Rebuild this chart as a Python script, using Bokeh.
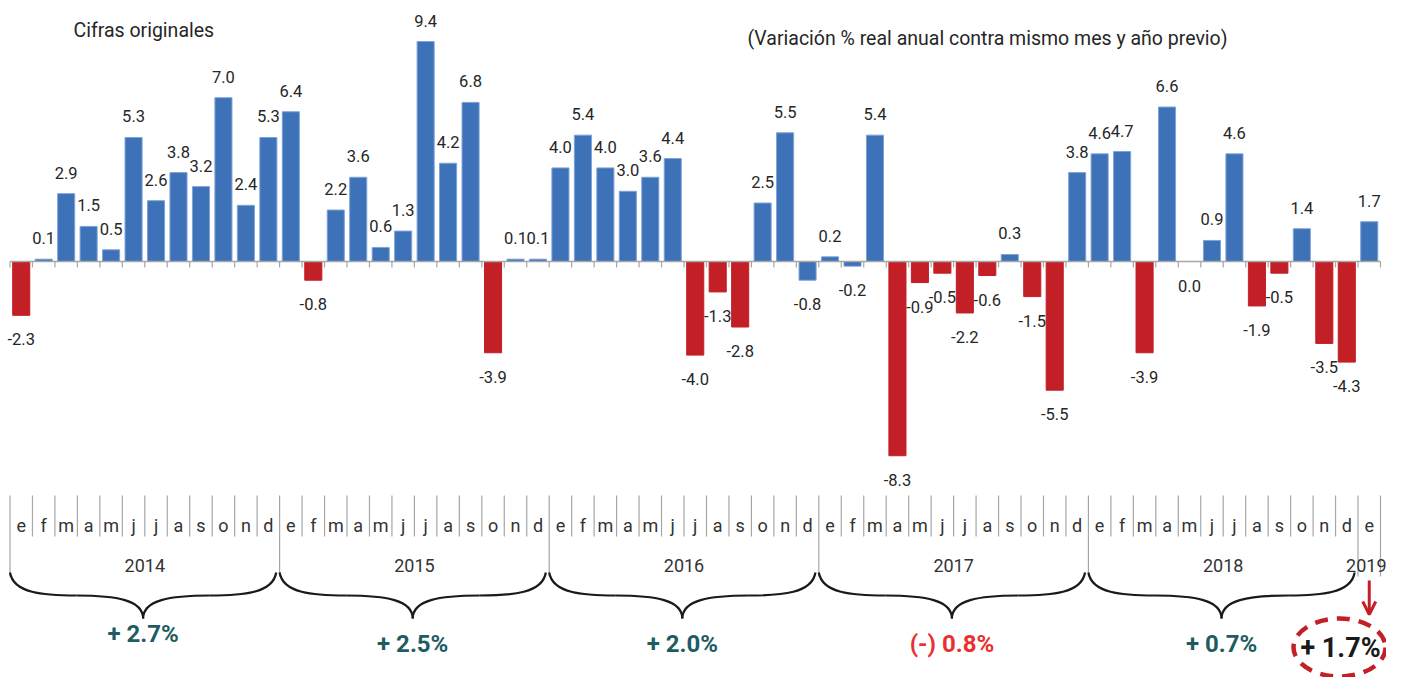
from bokeh.plotting import figure
from bokeh.models import Range1d, Arrow, OpenHead, ColumnDataSource
from bokeh.core.properties import value
from bokeh.embed import file_html
from bokeh.resources import INLINE

# ---------------- data ----------------
years = ["2014", "2015", "2016", "2017", "2018", "2019"]
month_letters = ["e", "f", "m", "a", "m", "j", "j", "a", "s", "o", "n", "d"]
v2014 = [-2.3, 0.1, 2.9, 1.5, 0.5, 5.3, 2.6, 3.8, 3.2, 7.0, 2.4, 5.3]
v2015 = [6.4, -0.8, 2.2, 3.6, 0.6, 1.3, 9.4, 4.2, 6.8, -3.9, 0.1, 0.1]
v2016 = [4.0, 5.4, 4.0, 3.0, 3.6, 4.4, -4.0, -1.3, -2.8, 2.5, 5.5, -0.8]
v2017 = [0.2, -0.2, 5.4, -8.3, -0.9, -0.5, -2.2, -0.6, 0.3, -1.5, -5.5, 3.8]
v2018 = [4.6, 4.7, -3.9, 6.6, 0.0, 0.9, 4.6, -1.9, -0.5, 1.4, -3.5, -4.3]
v2019 = [1.7]
annual_labels = ["+ 2.7%", "+ 2.5%", "+ 2.0%", "(-) 0.8%", "+ 0.7%"]
latest_label = "+ 1.7%"
blue_negative_months = [("2016", "d"), ("2017", "f")]   # negative bars drawn blue
title_left = "Cifras originales"
title_right = "(Variación % real anual contra mismo mes y año previo)"

# ---------------- styles ----------------
BLUE = "#3D71B8"
RED = "#C31F27"
TEAL = "#1F5C62"
LRED = "#E8312F"
GRAY = "#A6A6A6"
TXT = "#262626"
FONT = "Roboto"

values = v2014 + v2015 + v2016 + v2017 + v2018 + v2019
n = len(values)
xs = list(range(n))
labels_month = (month_letters * 5) + month_letters[:1]
year_of = [years[i // 12] for i in range(n)]
colors = []
for i, v in enumerate(values):
    if v < 0 and (year_of[i], month_letters[i % 12]) not in blue_negative_months:
        colors.append(RED)
    else:
        colors.append(BLUE)

# ---------------- geometry (picture px <-> data) ----------------
W, H = 1386, 677
XU = 22.467          # px per month
X0PX = 20.73         # px of first bar centre
YU = 23.4            # px per percentage point
Y0PX = 261.0         # px of the zero line


def xd(px):
    return (px - X0PX) / XU


def yd(py):
    return (Y0PX - py) / YU


p = figure(width=W, height=H, output_backend="svg", toolbar_location=None,
           x_range=Range1d(xd(0), xd(W)), y_range=Range1d(yd(H), yd(0)),
           min_border=0, min_border_left=0, min_border_right=0,
           min_border_top=0, min_border_bottom=0)
p.axis.visible = False
p.grid.visible = False
p.outline_line_color = None
p.background_fill_color = "white"
p.border_fill_color = "white"

# bars
src = ColumnDataSource(dict(x=xs, top=values, color=colors,
                            line=[("#7FA3D6" if c == BLUE else c) for c in colors]))
p.vbar(x="x", top="top", bottom=0, width=0.76, fill_color="color",
       line_color="line", line_width=1, source=src)

# zero axis with ticks
p.segment(x0=[-0.5], y0=[0], x1=[n - 0.5], y1=[0], line_color=GRAY, line_width=1.5)
bounds = [i - 0.5 for i in range(n + 1)]
p.segment(x0=bounds, y0=[0] * len(bounds), x1=bounds, y1=[yd(Y0PX + 6)] * len(bounds),
          line_color=GRAY, line_width=1.2)

# value labels
pos = [(i, v) for i, v in enumerate(values) if v > 0]
neg = [(i, v) for i, v in enumerate(values) if v <= 0]
p.text(x=[a for a, _ in pos], y=[b for _, b in pos], text=["%.1f" % b for _, b in pos],
       text_align="center", text_baseline="middle", y_offset=-21,
       text_font=value(FONT), text_font_size="16.5px", text_color=TXT)
p.text(x=[a for a, _ in neg], y=[b for _, b in neg], text=["%.1f" % b for _, b in neg],
       text_align="center", text_baseline="middle", y_offset=24,
       text_font=value(FONT), text_font_size="16.5px", text_color=TXT)

# titles
p.text(x=[xd(73)], y=[yd(30)], text=[title_left], text_align="left",
       text_baseline="middle", text_font=value(FONT), text_font_size="19.5px",
       text_color=TXT)
p.text(x=[xd(1227)], y=[yd(38)], text=[title_right], text_align="right",
       text_baseline="middle", text_font=value(FONT), text_font_size="19.5px",
       text_color=TXT)

# month table
year_starts = [0, 12, 24, 36, 48, 60, 61]
mb = [b for i, b in enumerate(bounds) if i not in year_starts]
p.segment(x0=mb, y0=[yd(495)] * len(mb), x1=mb, y1=[yd(536)] * len(mb),
          line_color=GRAY, line_width=1.2)
yb = [bounds[i] for i in year_starts]
p.segment(x0=yb, y0=[yd(495)] * len(yb), x1=yb, y1=[yd(576)] * len(yb),
          line_color=GRAY, line_width=1.2)
p.text(x=xs, y=[yd(525)] * n, text=labels_month, text_align="center",
       text_baseline="middle", text_font=value(FONT), text_font_size="18px",
       text_color="#333333")
ycent = [(year_starts[k] + min(year_starts[k] + 11, n - 1)) / 2 for k in range(len(years) - 1)]
p.text(x=ycent, y=[yd(565)] * len(ycent), text=years[:-1], text_align="center",
       text_baseline="middle", text_font=value(FONT), text_font_size="18px",
       text_color="#333333")
p.text(x=[xd(1386)], y=[yd(565)], text=years[-1:], text_align="right",
       text_baseline="middle", text_font=value(FONT), text_font_size="18px",
       text_color="#333333")

# braces
yT, yM, yTip = yd(572), yd(595), yd(618)
bx0, by0, bx1, by1, bc0x, bc0y, bc1x, bc1y = [], [], [], [], [], [], [], []
tips = []
for k in range(5):
    xl = bounds[year_starts[k]]
    xr = bounds[year_starts[k + 1]] - 0.15
    xm = (xl + xr) / 2
    tips.append(xm)
    for s, e in ((xl, xm), (xr, xm)):
        q = (s + e) / 2
        bx0.append(s); by0.append(yT); bx1.append(q); by1.append(yM)
        bc0x.append(s + (q - s) * 0.05); bc0y.append(yM + (yT - yM) * 0.1)
        bc1x.append(s + (q - s) * 0.5); bc1y.append(yM)
        bx0.append(q); by0.append(yM); bx1.append(e); by1.append(yTip)
        bc0x.append(q + (e - q) * 0.6); bc0y.append(yM)
        bc1x.append(e); bc1y.append(yM + (yTip - yM) * 0.2)
p.bezier(x0=bx0, y0=by0, x1=bx1, y1=by1, cx0=bc0x, cy0=bc0y, cx1=bc1x, cy1=bc1y,
         line_color="#1A1A1A", line_width=2.2)

# annual labels
acolors = [TEAL, TEAL, TEAL, LRED, TEAL]
acenter = [633, 643, 643, 643, 643]
for k in range(5):
    p.text(x=[tips[k]], y=[yd(acenter[k])], text=[annual_labels[k]], text_align="center",
           text_baseline="middle", text_font=value(FONT), text_font_size="24px",
           text_font_style="bold", text_color=acolors[k])

# latest month highlight
last = n - 1
p.add_layout(Arrow(end=OpenHead(size=13, line_color=RED, line_width=3),
                   x_start=last, y_start=yd(580), x_end=last, y_end=yd(614),
                   line_color=RED, line_width=3))
p.text(x=[xd(1340)], y=[yd(647)], text=[latest_label], text_align="center",
       text_baseline="middle", text_font=value(FONT), text_font_size="27px",
       text_font_style="bold", text_color="#1A1A1A")
p.ellipse(x=[xd(1339)], y=[yd(647)], width=[92 / XU], height=[58 / YU],
          fill_color=None, line_color=RED, line_width=4.5, line_dash="13 9")

open("out.html", "w").write(file_html(p, INLINE))
